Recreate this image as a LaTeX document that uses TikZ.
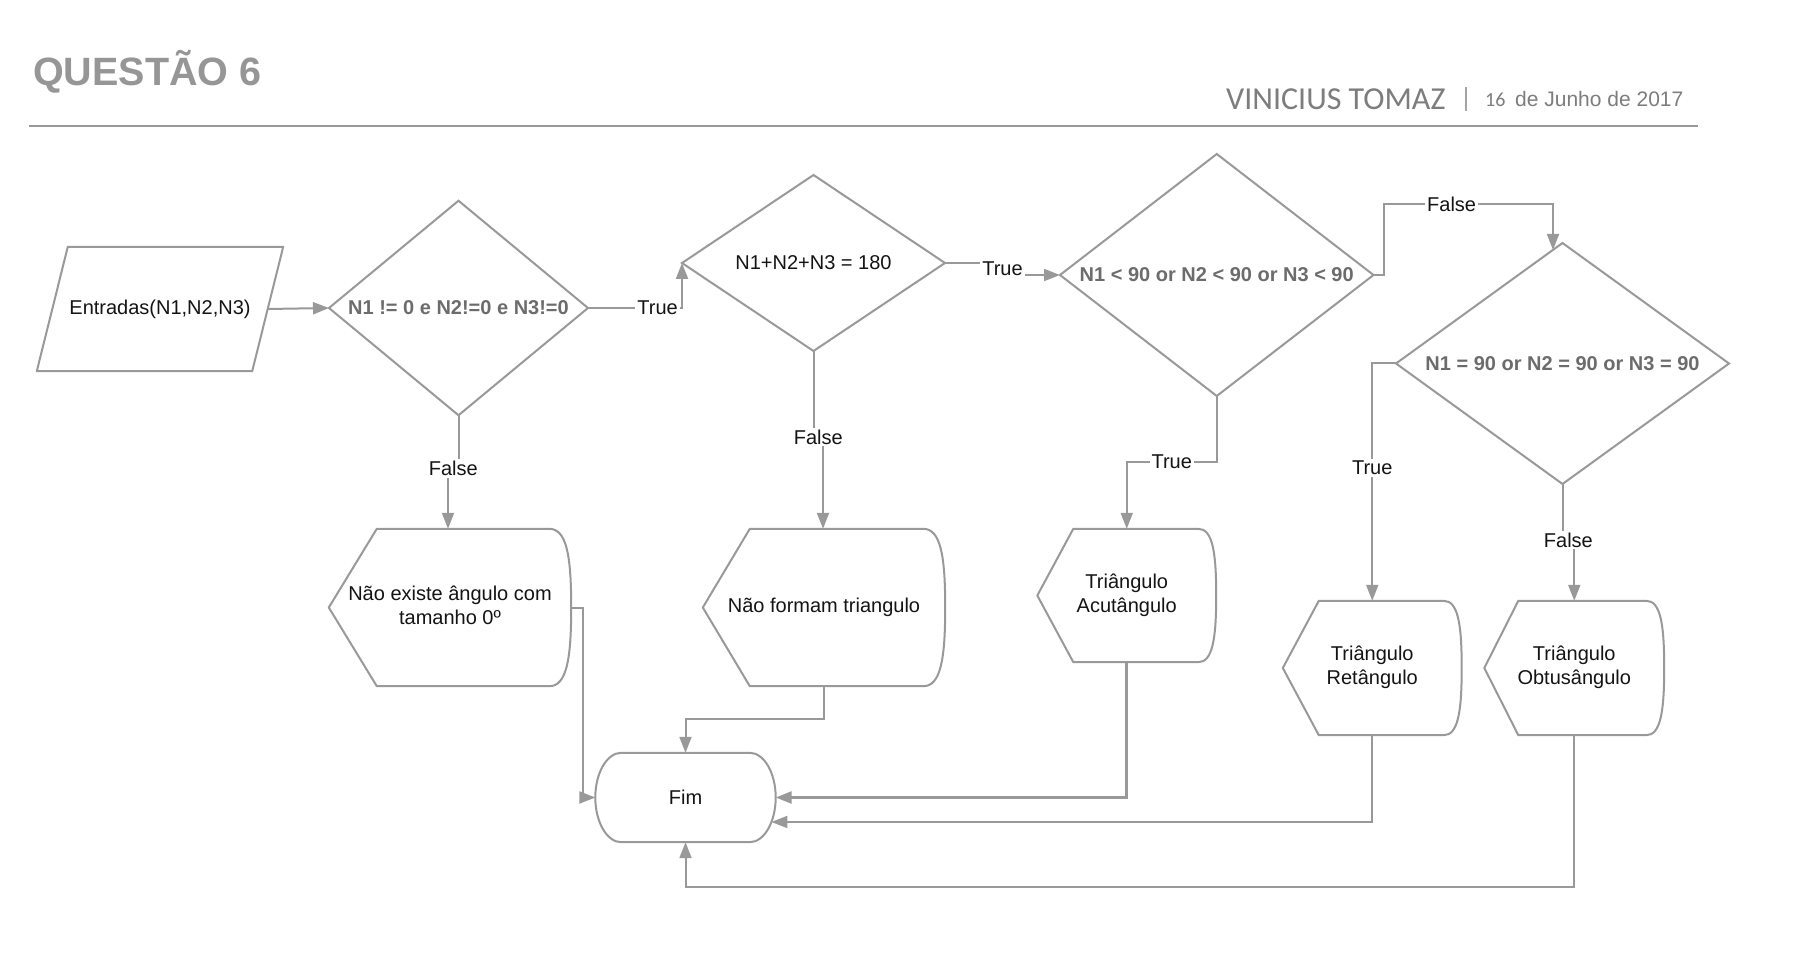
\documentclass[tikz,border=0pt]{standalone}
\usepackage{fontspec}
\setmainfont{Liberation Sans}
\newfontfamily\carlito{Carlito}
\usetikzlibrary{arrows.meta,shapes.geometric,calc}
\definecolor{lc}{RGB}{153,153,153}
\definecolor{bt}{RGB}{108,108,108}
\definecolor{tc}{RGB}{150,150,150}
\definecolor{nc}{RGB}{125,125,125}
\definecolor{tx}{RGB}{20,20,20}
\newcommand\dispout[3]{%
  \draw[shp] (#1.west) -- ($(#1.north west)+(#2,0)$) -- ($(#1.north east)+(-#3,0)$)
   .. controls ($(#1.north east)+(-#3*0.2,0)$) and ($(#1.north east)!0.35!(#1.east)$) .. (#1.east)
   .. controls ($(#1.south east)!0.35!(#1.east)$) and ($(#1.south east)+(-#3*0.2,0)$) .. ($(#1.south east)+(-#3,0)$)
   -- ($(#1.south west)+(#2,0)$) -- cycle;}
\begin{document}
\begin{tikzpicture}[x=1pt,y=-1pt,
  every node/.style={font=\fontsize{20}{24}\selectfont, text=tx},
  shp/.style={draw=lc, line width=2pt, line join=round},
  ghost/.style={draw=none, inner sep=0pt, align=center},
  dia/.style={shape=diamond, draw=lc, line width=2pt, inner sep=0pt, outer sep=0pt,
    font=\bfseries\fontsize{20}{24}\selectfont, text=bt},
  arr/.style={draw=lc, line width=2pt, -{Triangle[length=16pt,width=12pt]}},
  lbl/.style={fill=white, inner sep=2pt},
]
\useasboundingbox (0,0) rectangle (1816,976);
\fill[white] (0,0) rectangle (1816,976);

% header
\node[anchor=base west, font=\bfseries\fontsize{39.5}{44}\selectfont, text=tc, inner sep=0] (title) at (33,86) {QUESTÃO 6};
\node[anchor=base west, font=\carlito\fontsize{32}{36}\selectfont, text=nc, inner sep=0] (author) at (1226,109.5) {VINICIUS TOMAZ};
\draw[draw=nc!70, line width=1.2pt] (1466,87) -- (1466,111);
\node[anchor=base west, font=\carlito\fontsize{20}{24}\selectfont, text=nc, inner sep=0] (day) at (1485,107) {16};
\node[anchor=base west, font=\fontsize{21}{24}\selectfont, text=nc, inner sep=0] (date) at (1515,107) {de Junho de 2017};
\draw[draw=lc, line width=2.5pt] (29,126) -- (1698,126);

% input
\node[ghost, minimum width=215pt, minimum height=124pt] (inp) at (160,309) {Entradas(N1,N2,N3)};
\draw[shp] ($(inp.north west)+(15.5,0)$) -- ($(inp.north east)+(15.5,0)$) -- ($(inp.south east)+(-15.5,0)$) -- ($(inp.south west)+(-15.5,0)$) -- cycle;

% decisions
\node[dia, aspect=1.21, minimum width=259pt, minimum height=214.5pt] (d1) at (458.5,308) {N1 != 0 e N2!=0 e N3!=0};
\node[dia, aspect=1.49, minimum width=263pt, minimum height=176pt, font=\fontsize{20}{24}\selectfont, text=tx] (d2) at (813.5,263) {N1+N2+N3 = 180};
\node[dia, aspect=1.295, minimum width=313.5pt, minimum height=242pt] (d3) at (1216.75,275) {N1 < 90 or N2 < 90 or N3 < 90};
\node[dia, aspect=1.38, minimum width=333pt, minimum height=241pt] (d4) at (1562.5,363.5) {N1 = 90 or N2 = 90 or N3 = 90};

% displays
\node[ghost, minimum width=242pt, minimum height=157pt] (disp1) at (450,607.5) {\raisebox{3pt}{\begin{tabular}{@{}c@{}}Não existe ângulo com\\tamanho 0º\end{tabular}}};
\dispout{disp1}{48}{22}
\node[ghost, minimum width=242pt, minimum height=157pt] (disp2) at (824,607.5) {\raisebox{2pt}{Não formam triangulo}};
\dispout{disp2}{47}{22}
\node[ghost, minimum width=178.5pt, minimum height=133pt] (disp3) at (1126.75,595.5) {\raisebox{3pt}{\begin{tabular}{@{}c@{}}Triângulo\\Acutângulo\end{tabular}}};
\dispout{disp3}{36}{18}
\node[ghost, minimum width=178.5pt, minimum height=134pt] (disp4) at (1372.25,668) {\raisebox{2pt}{\begin{tabular}{@{}c@{}}Triângulo\\Retângulo\end{tabular}}};
\dispout{disp4}{36}{18}
\node[ghost, minimum width=179.5pt, minimum height=134pt] (disp5) at (1574.25,668) {\raisebox{2pt}{\begin{tabular}{@{}c@{}}Triângulo\\Obtusângulo\end{tabular}}};
\dispout{disp5}{34}{18}

% end
\node[ghost, minimum width=180pt, minimum height=89pt] (fim) at (685.5,797.5) {Fim};
\draw[shp] ($(fim.north west)+(26,0)$) -- ($(fim.north east)+(-26,0)$)
  .. controls ($(fim.north east)+(-11.6,0)$) and ($(fim.east)+(0,-24.5)$) .. (fim.east)
  .. controls ($(fim.east)+(0,24.5)$) and ($(fim.south east)+(-11.6,0)$) .. ($(fim.south east)+(-26,0)$)
  -- ($(fim.south west)+(26,0)$)
  .. controls ($(fim.south west)+(11.6,0)$) and ($(fim.west)+(0,24.5)$) .. (fim.west)
  .. controls ($(fim.west)+(0,-24.5)$) and ($(fim.north west)+(11.6,0)$) .. ($(fim.north west)+(26,0)$) -- cycle;

% connectors
\draw[arr] (inp.east) -- (d1.west);
\draw[arr] (d1.east) -| node[lbl, pos=0.37] {True} (d2.west);
\draw[arr] (d1.south) -- ++(0,53) -| node[lbl, pos=0.25] {False} ($(disp1.north)+(-2,0)$);
\draw[arr] (d2.south) -- ++(0,86) -| node[lbl, pos=0.25] {False} ($(disp2.north)+(-1,0)$);
\draw[arr] (d2.east) -| ($(d2.east)!0.5!(d3.west)$) node[lbl] {True} |- (d3.west);
\draw[arr] (d3.east) -- ++(10.5,0) |- node[lbl, pos=0.7] {False} ($(d4.north)+(-9.5,-39)$) -- ($(d4.north)+(-9.5,6.9)$);
\draw[arr] (d3.south) -- ++(0,66) -| node[lbl, pos=0.25] {True} (disp3.north);
\draw[arr] (d4.west) -| node[lbl, pos=0.72] {True} (disp4.north);
\draw[arr] (d4.south) -- ++(0,56) -| node[lbl, pos=0.25] {False} (disp5.north);

\draw[arr] (disp1.east) -- ++(12,0) |- (fim.west);
\draw[arr] (disp2.south) -- ++(0,33) -| (fim.north);
\draw[arr, line width=2.6pt] (disp3.south) |- (fim.east);
\draw[arr] (disp4.south) |- ($(fim.east)+(-4.3,24.5)$);
\draw[arr] (disp5.south) -- ++(0,152) -| (fim.south);
\end{tikzpicture}
\end{document}
